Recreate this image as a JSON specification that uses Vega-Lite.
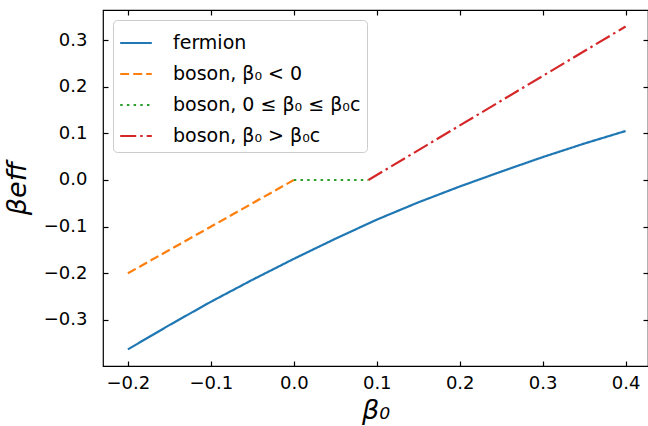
{
  "$schema": "https://vega.github.io/schema/vega-lite/v6.json",
  "width": 545,
  "height": 356,
  "autosize": {"type": "none"},
  "padding": {"left": 103, "top": 10, "right": 0, "bottom": 60},
  "background": "white",
  "config": {
    "view": {"stroke": "black", "strokeWidth": 1.2},
    "font": "DejaVu Sans",
    "axis": {
      "domain": false,
      "grid": false,
      "tickColor": "black",
      "tickSize": -5,
      "tickWidth": 1.2,
      "labelFont": "DejaVu Sans",
      "labelFontSize": 18,
      "labelColor": "black",
      "titleFont": "DejaVu Sans",
      "titleFontSize": 27,
      "titleFontWeight": "normal",
      "titleFontStyle": "italic",
      "titleColor": "black"
    }
  },
  "data": {
    "values": [
      {"series": "fermion", "x": -0.20, "y": -0.363},
      {"series": "fermion", "x": -0.15, "y": -0.311},
      {"series": "fermion", "x": -0.10, "y": -0.261},
      {"series": "fermion", "x": -0.05, "y": -0.214},
      {"series": "fermion", "x": 0.00, "y": -0.169},
      {"series": "fermion", "x": 0.05, "y": -0.126},
      {"series": "fermion", "x": 0.10, "y": -0.085},
      {"series": "fermion", "x": 0.15, "y": -0.048},
      {"series": "fermion", "x": 0.20, "y": -0.014},
      {"series": "fermion", "x": 0.25, "y": 0.018},
      {"series": "fermion", "x": 0.30, "y": 0.049},
      {"series": "fermion", "x": 0.35, "y": 0.078},
      {"series": "fermion", "x": 0.40, "y": 0.105},
      {"series": "boson, β₀ < 0", "x": -0.20, "y": -0.20},
      {"series": "boson, β₀ < 0", "x": 0.00, "y": 0.00},
      {"series": "boson, 0 ≤ β₀ ≤ β₀c", "x": 0.00, "y": 0.00},
      {"series": "boson, 0 ≤ β₀ ≤ β₀c", "x": 0.09, "y": 0.00},
      {"series": "boson, β₀ > β₀c", "x": 0.09, "y": 0.00},
      {"series": "boson, β₀ > β₀c", "x": 0.40, "y": 0.329}
    ]
  },
  "layer": [
    {
      "mark": {"type": "line", "strokeWidth": 2.2, "clip": true},
      "encoding": {
        "x": {
          "field": "x", "type": "quantitative",
          "scale": {"domain": [-0.23, 0.427], "nice": false, "zero": false},
          "axis": {"orient": "bottom", "values": [-0.2, -0.1, 0, 0.1, 0.2, 0.3, 0.4], "format": ".1f", "labelPadding": 13, "title": "β₀", "titlePadding": 5}
        },
        "y": {
          "field": "y", "type": "quantitative",
          "scale": {"domain": [-0.3986, 0.3643], "nice": false, "zero": false},
          "axis": {"orient": "left", "values": [-0.3, -0.2, -0.1, 0, 0.1, 0.2, 0.3], "format": ".1f", "labelPadding": 21, "title": "βeff", "titlePadding": 12}
        },
        "color": {
          "field": "series", "type": "nominal",
          "scale": {
            "domain": ["fermion", "boson, β₀ < 0", "boson, 0 ≤ β₀ ≤ β₀c", "boson, β₀ > β₀c"],
            "range": ["#1f77b4", "#ff7f0e", "#2ca02c", "#d62728"]
          },
          "legend": {
            "title": null,
            "orient": "none",
            "legendX": 10,
            "legendY": 10,
            "padding": 6,
            "fillColor": "white",
            "strokeColor": "#cccccc",
            "cornerRadius": 4,
            "symbolType": "stroke",
            "symbolSize": 1000,
            "symbolStrokeWidth": 2.2,
            "rowPadding": 4,
            "labelOffset": 20,
            "labelFont": "DejaVu Sans",
            "labelFontSize": 19,
            "labelColor": "black",
            "labelLimit": 400
          }
        },
        "strokeDash": {
          "field": "series", "type": "nominal",
          "scale": {
            "domain": ["fermion", "boson, β₀ < 0", "boson, 0 ≤ β₀ ≤ β₀c", "boson, β₀ > β₀c"],
            "range": [[1, 0], [9, 4], [2.5, 4.2], [16, 4, 2.5, 4]]
          },
          "legend": null
        }
      }
    },
    {
      "mark": {"type": "point", "opacity": 0},
      "encoding": {
        "x": {
          "field": "x", "type": "quantitative",
          "scale": {"domain": [-0.23, 0.427], "nice": false, "zero": false},
          "axis": {"orient": "top", "values": [-0.2, -0.1, 0, 0.1, 0.2, 0.3, 0.4], "labels": false, "title": null}
        },
        "y": {
          "field": "y", "type": "quantitative",
          "scale": {"domain": [-0.3986, 0.3643], "nice": false, "zero": false},
          "axis": {"orient": "right", "values": [-0.3, -0.2, -0.1, 0, 0.1, 0.2, 0.3], "labels": false, "title": null}
        }
      }
    }
  ],
  "resolve": {"axis": {"x": "independent", "y": "independent"}}
}
